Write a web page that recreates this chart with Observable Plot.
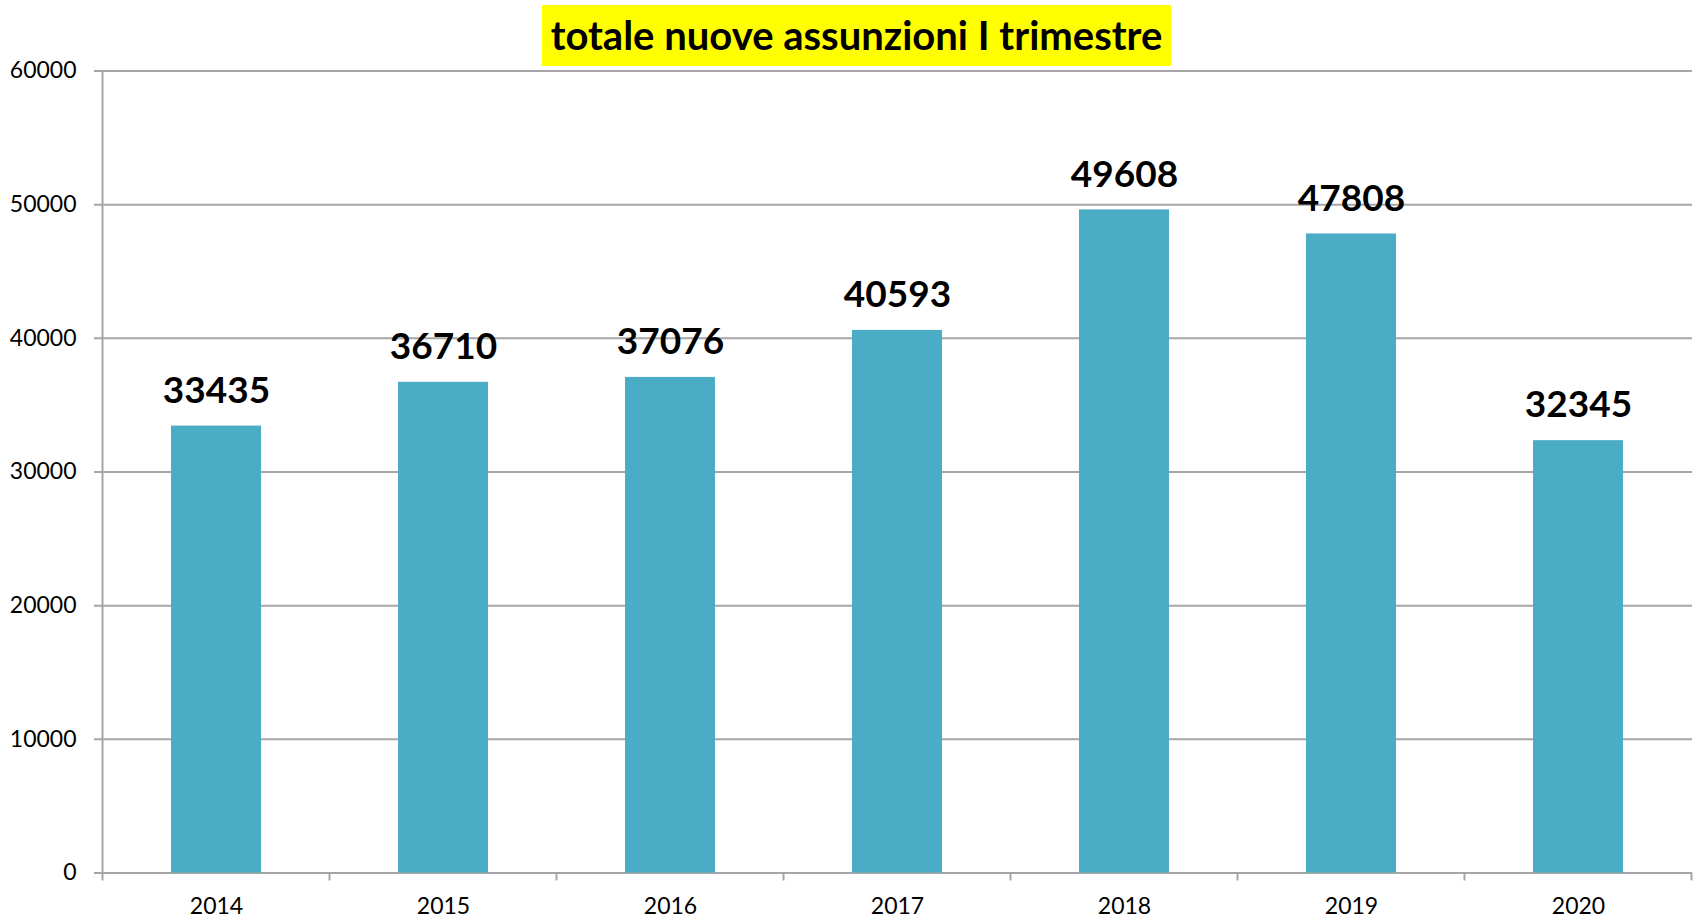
<!DOCTYPE html>
<html>
<head>
<meta charset="utf-8">
<script src="https://cdn.jsdelivr.net/npm/d3@7"></script>
<script src="https://cdn.jsdelivr.net/npm/@observablehq/plot@0.6"></script>
<style>
  html, body { margin: 0; padding: 0; background: #ffffff; }
  body { font-family: Lato, "Open Sans", sans-serif; width: 1694px; height: 919px; overflow: hidden; }
  #head { position: relative; height: 66px; }
  #title {
    position: absolute; left: 542px; top: 5px; width: 629px; height: 61px;
    background: #ffff00; color: #000; text-align: center;
    font-family: Lato, sans-serif; font-weight: 700; font-size: 40px; line-height: 61px;
    margin: 0; white-space: nowrap;
  }
  #chart svg { display: block; }
</style>
</head>
<body>
<div id="head"><div id="title">totale nuove assunzioni I trimestre</div></div>
<div id="chart"></div>
<script>
const years = ["2014", "2015", "2016", "2017", "2018", "2019", "2020"];
const values = [33435, 36710, 37076, 40593, 49608, 47808, 32345];
const yTicks = [0, 10000, 20000, 30000, 40000, 50000, 60000];

const data = years.map((year, i) => ({year, value: values[i]}));

const gridColor = "#a6a6a6";

function frameTicks(index, scales, channels, dimensions) {
  const x = scales.x, y = scales.y;
  const bw = typeof x.bandwidth === "function" ? x.bandwidth() : x.bandwidth;
  const step = x(years[1]) - x(years[0]);
  const gap = (step - bw) / 2;
  const y0 = y(0), yTop = y(yTicks[yTicks.length - 1]);
  const xs = years.map(v => x(v) - gap).concat([x(years[years.length - 1]) + bw + gap]);
  const g = d3.create("svg:g").attr("stroke", gridColor).attr("stroke-width", 2);
  g.append("line").attr("x1", xs[0]).attr("x2", xs[0]).attr("y1", yTop).attr("y2", y0 + 8);
  for (const xv of xs.slice(1)) {
    g.append("line").attr("x1", xv).attr("x2", xv).attr("y1", y0).attr("y2", y0 + 8);
  }
  return g.node();
}

const chart = Plot.plot({
  width: 1694,
  height: 853,
  marginTop: 4.5,
  marginBottom: 46.5,
  marginLeft: 102,
  marginRight: 2,
  style: {overflow: "visible", fontFamily: "Lato, sans-serif", background: "#ffffff", color: "#000"},
  x: {domain: years, paddingInner: 0.604, paddingOuter: 0.302},
  y: {domain: [0, 60000]},
  marks: [
    Plot.ruleY(yTicks, {stroke: gridColor, strokeWidth: 2, insetLeft: -8}),
    Plot.barY(data, {x: "year", y: "value", fill: "#4bacc6"}),
    frameTicks,
    Plot.text(data, {
      x: "year", y: "value", text: d => String(d.value),
      dy: -35, fontSize: 37, fontWeight: "bold", fill: "#000"
    }),
    Plot.axisY({ticks: yTicks, tickSize: 0, tickPadding: 26, fontSize: 23, label: null, tickFormat: d => String(d)}),
    Plot.axisX({tickSize: 0, tickPadding: 25, fontSize: 23, label: null})
  ]
});
document.getElementById("chart").appendChild(chart);
</script>
</body>
</html>
